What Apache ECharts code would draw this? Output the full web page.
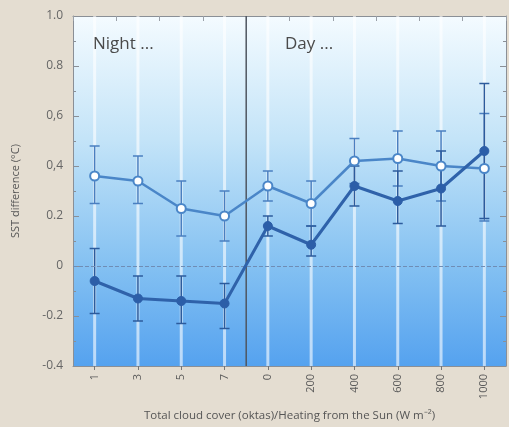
<!DOCTYPE html>
<html><head><meta charset="utf-8">
<script src="https://cdn.jsdelivr.net/npm/echarts@6/dist/echarts.min.js"></script>
<style>html,body{margin:0;padding:0;background:#e4ddd1;}#c{width:509px;height:427px;}</style>
</head><body><div id="c"></div>
<script>
const categories = ['1','3','5','7','0','200','400','600','800','1000'];
const yTicks = {'1':'1.0','0.8':'0.8','0.6':'0,6','0.4':'0,4','0.2':'0.2','0':'0','-0.2':'-0.2','-0.4':'-0.4'};
const openVals  = [0.36, 0.34, 0.23, 0.20, 0.32, 0.25, 0.42, 0.43, 0.40, 0.39];
const openLow   = [0.25, 0.25, 0.12, 0.10, 0.26, 0.16, 0.33, 0.32, 0.26, 0.18];
const openHigh  = [0.48, 0.44, 0.34, 0.30, 0.38, 0.34, 0.51, 0.54, 0.54, 0.61];
const darkVals  = [-0.06, -0.13, -0.14, -0.15, 0.16, 0.085, 0.32, 0.26, 0.31, 0.46];
const darkLow   = [-0.19, -0.22, -0.23, -0.25, 0.12, 0.04, 0.24, 0.17, 0.16, 0.19];
const darkHigh  = [0.07, -0.04, -0.04, -0.07, 0.20, 0.16, 0.40, 0.38, 0.46, 0.73];

const chart = echarts.init(document.getElementById('c'), null, {renderer:'canvas'});

function errData(low, high){ return categories.map((c,i)=>[i, low[i], high[i]]); }
function errRender(color){
  return function(params, api){
    const i = api.value(0);
    const lo = api.coord([i, api.value(1)]);
    const hi = api.coord([i, api.value(2)]);
    const hw = 5;
    const st = {stroke: color, lineWidth: 1.5};
    return {type:'group', children:[
      {type:'line', shape:{x1:lo[0],y1:lo[1],x2:hi[0],y2:hi[1]}, style:st},
      {type:'line', shape:{x1:lo[0]-hw,y1:lo[1],x2:lo[0]+hw,y2:lo[1]}, style:st},
      {type:'line', shape:{x1:hi[0]-hw,y1:hi[1],x2:hi[0]+hw,y2:hi[1]}, style:st}
    ]};
  };
}

const option = {
  backgroundColor: '#e4ddd1',
  animation: false,
  grid: {
    left: 73, right: 3, top: 16, bottom: 61, show: true, borderWidth: 0,
    backgroundColor: new echarts.graphic.LinearGradient(0,0,0,1,[
      {offset:0, color:'#f4fbff'},
      {offset:0.35, color:'#c4e4f8'},
      {offset:0.7, color:'#86c2f2'},
      {offset:1, color:'#55a2ef'}
    ])
  },
  xAxis: [{
    type:'category', data: categories, boundaryGap: true,
    axisLine:{show:true, onZero:false, lineStyle:{color:'#8a8f96', width:1}},
    axisTick:{show:true, alignWithLabel:true, inside:false, length:4, lineStyle:{color:'#777'}},
    axisLabel:{rotate:90, color:'#5a5a5a', fontSize:11, fontFamily:'Open Sans', margin:8},
    splitLine:{show:false},
    name:'Total cloud cover (oktas)/Heating from the Sun (W m\u207B\u00B2)',
    nameLocation:'middle', nameGap:44,
    nameTextStyle:{color:'#555', fontSize:11.5, fontFamily:'Open Sans'}
  },{
    type:'category', data: categories, position:'top', boundaryGap:true,
    axisLine:{show:true, onZero:false, lineStyle:{color:'#8a8f96'}},
    axisTick:{show:true, inside:true, length:5, lineStyle:{color:'#9aa0a8'}},
    axisLabel:{show:false}
  }],
  yAxis: [{
    type:'value', min:-0.4, max:1.0, interval:0.2,
    axisLine:{show:true, lineStyle:{color:'#8a8f96'}},
    axisTick:{show:true, inside:true, length:6, lineStyle:{color:'#8a8f96'}},
    minorTick:{show:true, splitNumber:2, length:3, lineStyle:{color:'#8a8f96'}},
    axisLabel:{color:'#666', fontSize:12, fontFamily:'Open Sans', margin:10,
      formatter: v => yTicks[String(Math.round(v*10)/10)] ?? v},
    splitLine:{show:false},
    name:'SST difference (\u00B0C)', nameLocation:'middle', nameGap:52, nameRotate:90,
    nameTextStyle:{color:'#555', fontSize:11, fontFamily:'Open Sans'}
  },{
    type:'value', min:-0.4, max:1.0, interval:0.2, position:'right',
    axisLine:{show:true, lineStyle:{color:'#8a8f96'}},
    axisTick:{show:true, inside:true, length:6, lineStyle:{color:'#8a8f96'}},
    minorTick:{show:true, splitNumber:2, length:3, lineStyle:{color:'#8a8f96'}},
    axisLabel:{show:false}, splitLine:{show:false}
  }],
  graphic: [
    {type:'text', left:93, top:36, z:10, style:{text:'Night ...', fill:'#4a4a4a', font:'17px "Open Sans"'}},
    {type:'text', left:285, top:36, z:10, style:{text:'Day ...', fill:'#4a4a4a', font:'17px "Open Sans"'}}
  ],
  series: [
    {
      type:'custom', name:'stripes', z:1, silent:true,
      data: categories.map((c,i)=>[i]),
      renderItem: function(params, api){
        const x = api.coord([api.value(0), 0])[0];
        const cs = params.coordSys;
        return {type:'line', shape:{x1:x,y1:cs.y,x2:x,y2:cs.y+cs.height},
          style:{stroke:'rgba(255,255,255,0.6)', lineWidth:3}};
      }
    },
    {
      type:'custom', name:'divider', z:2, silent:true,
      data: [[3, 4]],
      renderItem: function(params, api){
        const x = (api.coord([api.value(0),0])[0] + api.coord([api.value(1),0])[0]) / 2;
        const cs = params.coordSys;
        return {type:'line', shape:{x1:x,y1:cs.y,x2:x,y2:cs.y+cs.height},
          style:{stroke:'#4f5660', lineWidth:1.5}};
      }
    },
    {type:'custom', name:'openErr', z:3, data: errData(openLow, openHigh), renderItem: errRender('#4a7fc0')},
    {type:'custom', name:'darkErr', z:3, data: errData(darkLow, darkHigh), renderItem: errRender('#2c5b9c')},
    {
      type:'line', name:'open', z:5, data: openVals,
      symbol:'circle', symbolSize:9,
      lineStyle:{color:'#4a86c8', width:2.5},
      itemStyle:{color:'#ffffff', borderColor:'#4a86c8', borderWidth:2}
    },
    {
      type:'line', name:'dark', z:6, data: darkVals,
      symbol:'circle', symbolSize:9,
      lineStyle:{color:'#2f62aa', width:3},
      itemStyle:{color:'#2c5ea8', borderColor:'#2c5ea8', borderWidth:1},
      markLine:{silent:true, symbol:'none', label:{show:false},
        lineStyle:{color:'#6f8db5', type:'dashed', width:1},
        data:[{yAxis:0}]}
    }
  ]
};
chart.setOption(option);
</script>
</body></html>
